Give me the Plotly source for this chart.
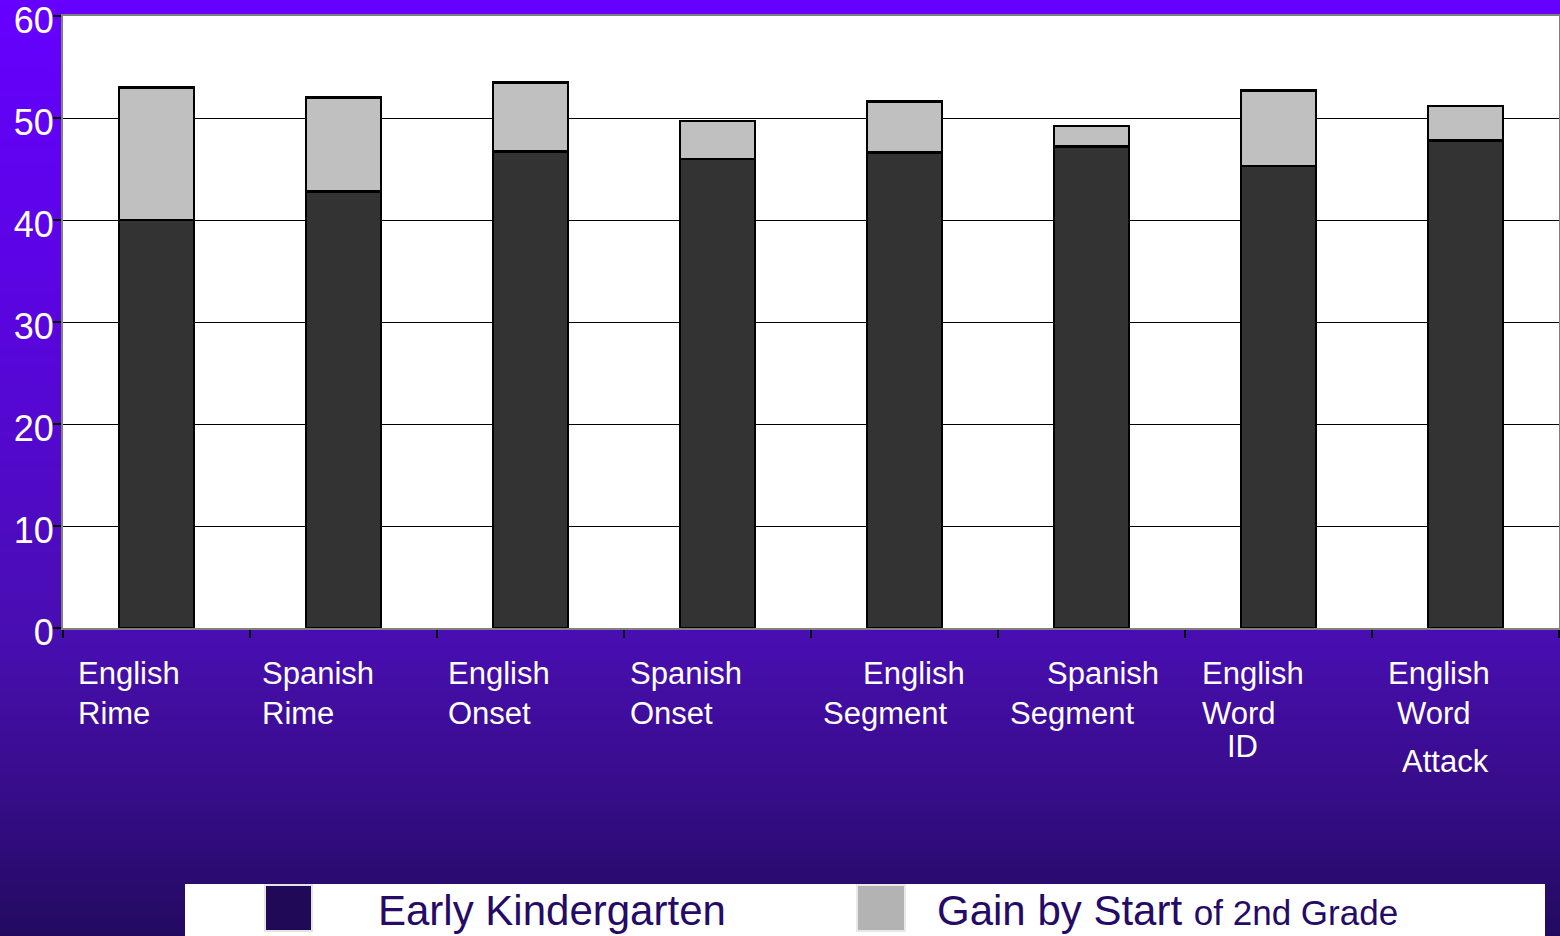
import plotly.graph_objects as go

# data
categories = ['English Rime', 'Spanish Rime', 'English Onset', 'Spanish Onset',
              'English Segment', 'Spanish Segment', 'English Word ID', 'English Word Attack']
early_k = [40.0, 42.8, 46.7, 46.0, 46.6, 47.2, 45.3, 47.8]
gain_2nd = [13.0, 9.2, 6.8, 3.7, 5.0, 2.0, 7.4, 3.4]
y_ticks = [0, 10, 20, 30, 40, 50, 60]

# label lines as they are broken on the slide
label_lines = [['English', 'Rime'], ['Spanish', 'Rime'], ['English', 'Onset'],
               ['Spanish', 'Onset'], ['English', 'Segment'], ['Spanish', 'Segment'],
               ['English', 'Word', 'ID'], ['English', 'Word', 'Attack']]

# layout (pixels): left offset of each label line from bar centre, and top of caps
label_dx = [[-78, -78], [-81, -81], [-82, -82], [-87, -87], [-41, -81],
            [-44, -81], [-76, -76, -51], [-77, -68, -63]]
label_top = [[662, 702], [662, 702], [662, 702], [662, 702], [662, 702],
             [662, 702], [662, 702, 735], [662, 702, 750]]

W, H = 1560, 936
ML, MR, MT, MB = 63, 1, 16, 308
PW, PH = W - ML - MR, H - MT - MB


def px_x(p):
    return (p - ML) / PW


def px_y(p):
    return (H - MB - p) / PH


fig = go.Figure()
fig.add_trace(go.Bar(x=categories, y=early_k, name='Early Kindergarten',
                     marker=dict(color='#333333', line=dict(color='black', width=2.5)),
                     width=0.4, showlegend=False))
fig.add_trace(go.Bar(x=categories, y=gain_2nd, name='Gain by Start of 2nd Grade',
                     marker=dict(color='#c0c0c0', line=dict(color='black', width=2.5)),
                     width=0.4, showlegend=False))

# purple gradient background made of thin bands
stops = [(0, (102, 0, 255)), (300, (90, 5, 225)), (640, (72, 14, 176)),
         (780, (56, 13, 140)), (936, (34, 10, 96))]


def grad(p):
    for (p0, c0), (p1, c1) in zip(stops, stops[1:]):
        if p0 <= p <= p1:
            t = (p - p0) / (p1 - p0)
            return 'rgb(%d,%d,%d)' % tuple(round(a + (b - a) * t) for a, b in zip(c0, c1))
    return 'rgb(%d,%d,%d)' % stops[-1][1]


shapes = []
step = 6
for p in range(0, H, step):
    shapes.append(dict(type='rect', xref='paper', yref='paper', layer='below',
                       x0=px_x(0), x1=px_x(W), y0=px_y(p + step + 1), y1=px_y(p),
                       fillcolor=grad(p + step / 2), line=dict(width=0)))
shapes.append(dict(type='rect', xref='paper', yref='paper', layer='below',
                   x0=0, x1=1, y0=0, y1=1, fillcolor='white', line=dict(width=0)))

# legend box at the bottom
shapes.append(dict(type='rect', xref='paper', yref='paper', layer='below',
                   x0=px_x(185), x1=px_x(1545), y0=px_y(945), y1=px_y(884),
                   fillcolor='white', line=dict(width=0)))
shapes.append(dict(type='rect', xref='paper', yref='paper',
                   x0=px_x(265), x1=px_x(312), y0=px_y(931), y1=px_y(885),
                   fillcolor='#200a58', line=dict(color='#e4e4e4', width=2)))
shapes.append(dict(type='rect', xref='paper', yref='paper',
                   x0=px_x(857), x1=px_x(905), y0=px_y(931), y1=px_y(885),
                   fillcolor='#b3b3b3', line=dict(color='#e8e8e8', width=2)))

annotations = []
for i, lines in enumerate(label_lines):
    for j, line in enumerate(lines):
        annotations.append(dict(x=i, xref='x', y=0, yref='paper', text=line,
                                showarrow=False, xanchor='left', yanchor='top',
                                xshift=label_dx[i][j] - 3,
                                yshift=-(label_top[i][j] - (H - MB) - 8),
                                font=dict(family='Arial', size=31, color='white')))

legend_font = dict(family='Arial', size=42, color='#250a66')
annotations.append(dict(x=px_x(376), y=px_y(910), xref='paper', yref='paper',
                        text='Early Kindergarten', showarrow=False,
                        xanchor='left', yanchor='middle', font=legend_font))
annotations.append(dict(x=px_x(935), y=px_y(910), xref='paper', yref='paper',
                        text="Gain by Start <span style='font-size:35px'>of 2nd Grade</span>",
                        showarrow=False, xanchor='left', yanchor='middle', font=legend_font))

fig.update_layout(
    barmode='stack', width=W, height=H,
    margin=dict(l=ML, r=MR, t=MT, b=MB, pad=0, autoexpand=False),
    paper_bgcolor='#4a0eb0', plot_bgcolor='white',
    shapes=shapes, annotations=annotations,
    font=dict(family='Arial'),
)
fig.update_xaxes(showticklabels=False, tickson='boundaries', ticks='outside',
                 ticklen=8, tickcolor='black', tickwidth=1.5, automargin=False,
                 showline=True, linecolor='#808080', linewidth=2, mirror=True,
                 showgrid=False, range=[-0.5, 7.5])
fig.update_yaxes(range=[0, 60], tickvals=y_ticks, ticks='outside', ticklen=8,
                 tickcolor='black', tickwidth=1.5, ticklabeloverflow='allow',
                 ticklabelstandoff=-8, ticklabelshift=4, automargin=False,
                 tickfont=dict(family='Arial', size=36, color='white'),
                 showline=True, linecolor='#808080', linewidth=2, mirror=True,
                 showgrid=True, gridcolor='black', gridwidth=1, zeroline=False)

fig.write_html("out.html", config={'displayModeBar': False},
               post_script="document.body.style.margin='0';")
